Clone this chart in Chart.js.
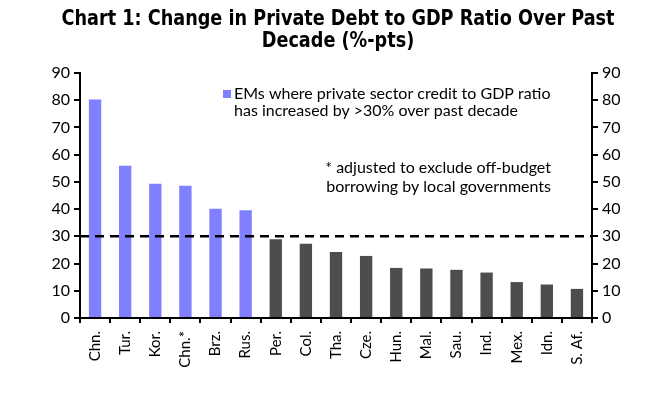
<!DOCTYPE html>
<html>
<head>
<meta charset="utf-8">
<script src="https://cdn.jsdelivr.net/npm/chart.js@4"></script>
<style>
  html, body { margin: 0; padding: 0; background: #fff; }
  #wrap { width: 666px; height: 393px; position: relative; }
</style>
</head>
<body>
<div id="wrap"><canvas id="chart"></canvas></div>
<script>
const countries = ['Chn.', 'Tur.', 'Kor.', 'Chn.*', 'Brz.', 'Rus.', 'Per.', 'Col.', 'Tha.', 'Cze.',
  'Hun.', 'Mal.', 'Sau.', 'Ind.', 'Mex.', 'Idn.', 'S. Af.']
const debtChange = [80.3, 55.9, 49.3, 48.6, 40.1, 39.6, 28.9, 27.3, 24.2, 22.8,
  18.4, 18.2, 17.7, 16.7, 13.2, 12.3, 10.7]
const overThirtyPct = [true, true, true, true, true, true, false, false, false, false,
  false, false, false, false, false, false, false]
const threshold = 30
const yTicks = [0, 90, 10]
const titleLines = ['Chart 1: Change in Private Debt to GDP Ratio Over Past', 'Decade (%-pts)']
const legendLines = ['EMs where private sector credit to GDP ratio', 'has increased by >30% over past decade']
const noteLines = ['* adjusted to exclude off-budget', 'borrowing by local governments']

const PURPLE = '#7f7fff'
const GREY = '#4d4d4d'
const FONT = 'Lato, "Open Sans", sans-serif'
const TITLE_FONT = '"Liberation Sans Narrow", "DejaVu Sans Condensed", sans-serif'

const overlay = {
  id: 'overlay',
  afterDatasetsDraw(chart) {
    const { ctx, chartArea, scales } = chart
    const y = scales.y.getPixelForValue(threshold)
    ctx.save()
    ctx.strokeStyle = '#000'
    ctx.lineWidth = 2.5
    ctx.setLineDash([9, 6])
    ctx.beginPath()
    ctx.moveTo(chartArea.left, y)
    ctx.lineTo(chartArea.right, y)
    ctx.stroke()
    ctx.restore()
  },
  afterDraw(chart) {
    const { ctx } = chart
    ctx.save()
    ctx.fillStyle = '#000'
    ctx.textAlign = 'center'
    ctx.textBaseline = 'alphabetic'
    ctx.font = 'bold 21px ' + TITLE_FONT
    // squeeze the title to the condensed width of the original
    const sx = 553 / ctx.measureText(titleLines[0]).width
    titleLines.forEach((t, i) => {
      ctx.save()
      ctx.translate(338, 25 + i * 22)
      ctx.scale(sx, 1)
      ctx.fillText(t, 0, 0)
      ctx.restore()
    })

    // legend
    ctx.font = '16px ' + FONT
    ctx.textAlign = 'left'
    ctx.textBaseline = 'middle'
    ctx.fillStyle = PURPLE
    ctx.fillRect(223, 90, 8, 8)
    ctx.fillStyle = '#000'
    legendLines.forEach((t, i) => ctx.fillText(t, 234, 94 + i * 17))

    // note
    ctx.textAlign = 'right'
    noteLines.forEach((t, i) => ctx.fillText(t, 551, 168 + i * 19))
    ctx.restore()
  }
}

const tickFont = { family: FONT, size: 16 }

new Chart(document.getElementById('chart'), {
  type: 'bar',
  data: {
    labels: countries,
    datasets: [{
      data: debtChange,
      backgroundColor: overThirtyPct.map(v => v ? PURPLE : GREY),
      barPercentage: 0.41,
      categoryPercentage: 1
    }]
  },
  options: {
    responsive: true,
    maintainAspectRatio: false,
    animation: false,
    layout: { padding: { top: 73, left: 0, right: 0, bottom: 0 } },
    plugins: {
      legend: { display: false },
      tooltip: { enabled: false },
      title: { display: false }
    },
    scales: {
      x: {
        offset: true,
        grid: { offset: true, drawOnChartArea: false, tickLength: 5, color: '#000', lineWidth: 2 },
        border: { color: '#000', width: 2 },
        ticks: { color: '#000', font: { family: FONT, size: 15 }, maxRotation: 90, minRotation: 90, padding: 8 },
        afterFit(scale) { scale.height = 75 }
      },
      y: {
        position: 'left',
        min: yTicks[0], max: yTicks[1],
        grid: { drawOnChartArea: false, tickLength: 6, color: '#000', lineWidth: 2 },
        border: { color: '#000', width: 2 },
        ticks: { stepSize: yTicks[2], color: '#000', font: tickFont, padding: 4 },
        afterFit(scale) { scale.width = 80 }
      },
      y2: {
        position: 'right',
        min: yTicks[0], max: yTicks[1],
        grid: { drawOnChartArea: false, tickLength: 6, color: '#000', lineWidth: 2 },
        border: { color: '#000', width: 2 },
        ticks: { stepSize: yTicks[2], color: '#000', font: tickFont, padding: 4 },
        afterFit(scale) { scale.width = 74 }
      }
    }
  },
  plugins: [overlay]
})
</script>
</body>
</html>
